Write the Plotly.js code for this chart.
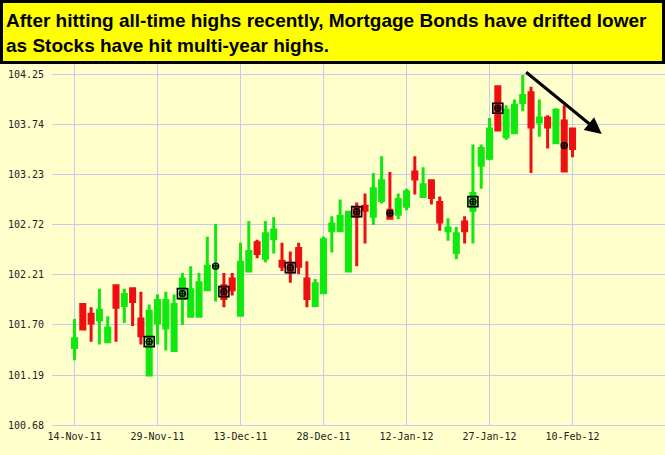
<!DOCTYPE html>
<html><head><meta charset="utf-8">
<script src="https://cdn.plot.ly/plotly-3.0.1.min.js"></script>
<style>html,body{margin:0;padding:0;background:#ffffcc;}#chart{width:665px;height:455px;}</style>
</head><body><div id="chart"></div>
<script>
const dates = [
  '2011-11-14','2011-11-15','2011-11-16','2011-11-17','2011-11-18','2011-11-21','2011-11-22','2011-11-23','2011-11-25','2011-11-28','2011-11-29','2011-11-30',
  '2011-12-01','2011-12-02','2011-12-05','2011-12-06','2011-12-07','2011-12-08','2011-12-09','2011-12-12','2011-12-13','2011-12-14','2011-12-15','2011-12-16',
  '2011-12-19','2011-12-20','2011-12-21','2011-12-22','2011-12-23','2011-12-27','2011-12-28','2011-12-29','2011-12-30',
  '2012-01-03','2012-01-04','2012-01-05','2012-01-06','2012-01-09','2012-01-10','2012-01-11','2012-01-12','2012-01-13','2012-01-17','2012-01-18','2012-01-19',
  '2012-01-20','2012-01-23','2012-01-24','2012-01-25','2012-01-26','2012-01-27','2012-01-30','2012-01-31',
  '2012-02-01','2012-02-02','2012-02-03','2012-02-06','2012-02-07','2012-02-08','2012-02-09','2012-02-10'
];
const openP = [101.47,101.91,101.81,101.75,101.53,102.10,101.90,102.07,101.76,101.19,101.72,101.67,101.44,101.97,101.79,101.79,102.06,102.29,102.10,102.17,101.80,102.25,102.54,102.38,102.58,102.35,102.33,102.48,102.17,101.90,102.03,102.66,102.66,102.25,102.89,102.91,102.81,102.97,102.87,102.83,102.91,103.26,103.01,103.17,102.95,102.66,102.44,102.75,102.87,103.33,103.40,104.13,103.62,103.66,103.97,104.07,103.77,103.81,103.56,103.78,103.70];
const highP = [101.76,101.92,101.88,102.07,101.79,102.10,102.07,102.07,102.04,101.91,102.01,102.04,102.01,102.23,102.30,102.23,102.60,102.73,102.23,102.23,102.54,102.76,102.57,102.76,102.80,102.54,102.45,102.54,102.35,102.17,102.60,102.81,102.98,102.86,102.95,103.04,103.25,103.42,103.26,103.04,103.09,103.42,103.31,103.18,103.01,102.79,102.70,102.81,103.54,103.54,103.81,104.13,103.94,104.00,104.25,104.13,104.00,103.84,103.91,103.94,103.70];
const lowP = [101.34,101.65,101.53,101.50,101.53,101.53,101.72,101.69,101.50,101.19,101.50,101.44,101.44,101.70,101.79,101.79,102.06,101.94,101.88,102.00,101.80,102.25,102.38,102.34,102.43,102.25,102.13,102.22,101.88,101.90,102.03,102.44,102.66,102.25,102.30,102.53,102.72,102.94,102.79,102.78,102.87,103.03,103.01,102.93,102.66,102.56,102.37,102.53,102.53,103.09,103.38,103.69,103.59,103.66,103.88,103.25,103.62,103.50,103.56,103.27,103.41];
const closeP = [101.56,101.66,101.72,101.85,101.67,101.88,102.01,101.94,101.59,101.84,101.95,101.95,101.91,102.17,102.06,102.13,102.30,102.30,101.97,102.06,102.34,102.45,102.43,102.63,102.67,102.30,102.24,102.30,101.97,102.12,102.57,102.73,102.81,102.85,102.81,102.87,103.09,103.17,102.79,102.98,103.06,103.19,103.13,103.00,102.75,102.69,102.63,102.66,103.04,103.50,103.70,103.69,103.89,103.94,104.04,103.72,103.81,103.72,103.89,103.27,103.50];

const boxMarkDates = ['2011-11-28','2011-12-02','2011-12-09','2011-12-21','2012-01-04','2012-01-25','2012-01-30'];
const boxMarkValues = [101.53,102.02,102.04,102.285,102.856,102.958,103.91];
const dotMarkDates = ['2011-12-08','2012-01-10','2012-02-09'];
const dotMarkValues = [102.30,102.84,103.53];

const tickDates = ['2011-11-14','2011-11-29','2011-12-13','2011-12-28','2012-01-12','2012-01-27','2012-02-10'];
const tickLabels = ['14-Nov-11','29-Nov-11','13-Dec-11','28-Dec-11','12-Jan-12','27-Jan-12','10-Feb-12'];
const yTicks = [100.68,101.19,101.70,102.21,102.72,103.23,103.74,104.25];
const titleText = '<b>After hitting all-time highs recently, Mortgage Bonds have drifted lower<br>as Stocks have hit multi-year highs.</b>';

const GREEN = '#10e810', RED = '#ee1010', GRID = '#c8c8f4';

const traces = [
  {
    type: 'candlestick', x: dates, open: openP, high: highP, low: lowP, close: closeP,
    increasing: {line: {color: GREEN, width: 3}, fillcolor: GREEN},
    decreasing: {line: {color: RED, width: 3}, fillcolor: RED},
    whiskerwidth: 0, showlegend: false, hoverinfo: 'none'
  },
  {
    type: 'scatter', mode: 'markers', x: boxMarkDates, y: boxMarkValues, showlegend: false, hoverinfo: 'none',
    marker: {symbol: 'square-open', size: 10, color: '#000', line: {width: 1.6, color: '#000'}}
  },
  {
    type: 'scatter', mode: 'markers', x: boxMarkDates.concat(dotMarkDates), y: boxMarkValues.concat(dotMarkValues), showlegend: false, hoverinfo: 'none',
    marker: {symbol: 'circle-cross-open', size: 6, color: '#000', line: {width: 1.4, color: '#000'}}
  }
];

const layout = {
  width: 665, height: 455, autosize: false,
  margin: {l: 52, r: 0, t: 64, b: 30, pad: 0},
  paper_bgcolor: '#ffffcc', plot_bgcolor: '#ffffcc',
  showlegend: false,
  title: {
    text: titleText, x: 6/665, xanchor: 'left', xref: 'container', yref: 'container',
    y: 1 - 27/455, yanchor: 'top',
    font: {family: 'Liberation Sans, Arial, sans-serif', size: 19, color: '#000'}
  },
  xaxis: {
    type: 'category', range: [-2.71, 71.14], tickmode: 'array', tickvals: tickDates, ticktext: tickLabels,
    showgrid: true, gridcolor: GRID, gridwidth: 1, showline: true, linecolor: GRID, linewidth: 1,
    ticks: 'outside', ticklen: 2, tickcolor: 'rgba(0,0,0,0)', zeroline: false,
    rangeslider: {visible: false},
    tickfont: {family: 'DejaVu Sans Mono, monospace', size: 10, color: '#222'}
  },
  yaxis: {
    range: [100.68, 104.362], tickmode: 'array', tickvals: yTicks, tickformat: '.2f',
    showgrid: true, gridcolor: GRID, gridwidth: 1, showline: false, zeroline: false,
    ticks: 'outside', ticklen: 5, tickcolor: 'rgba(0,0,0,0)',
    tickfont: {family: 'DejaVu Sans Mono, monospace', size: 10, color: '#222'}
  },
  shapes: [{
    type: 'rect', xref: 'paper', yref: 'paper', layer: 'above',
    x0: (1.5-52)/613, x1: (663.5-52)/613, y0: (425-62.5)/361, y1: (425-1.5)/361,
    fillcolor: '#ffff00', line: {color: '#000', width: 3}
  }],
  annotations: [{
    xref: 'paper', yref: 'paper', x: (601.7-52)/613, y: (425-134)/361,
    axref: 'pixel', ayref: 'pixel', ax: -77, ay: -63,
    text: '', showarrow: true, arrowhead: 2, arrowsize: 1.1, arrowwidth: 3, arrowcolor: '#000'
  }]
};

Plotly.newPlot('chart', traces, layout, {displayModeBar: false, staticPlot: true});
</script>
</body></html>
